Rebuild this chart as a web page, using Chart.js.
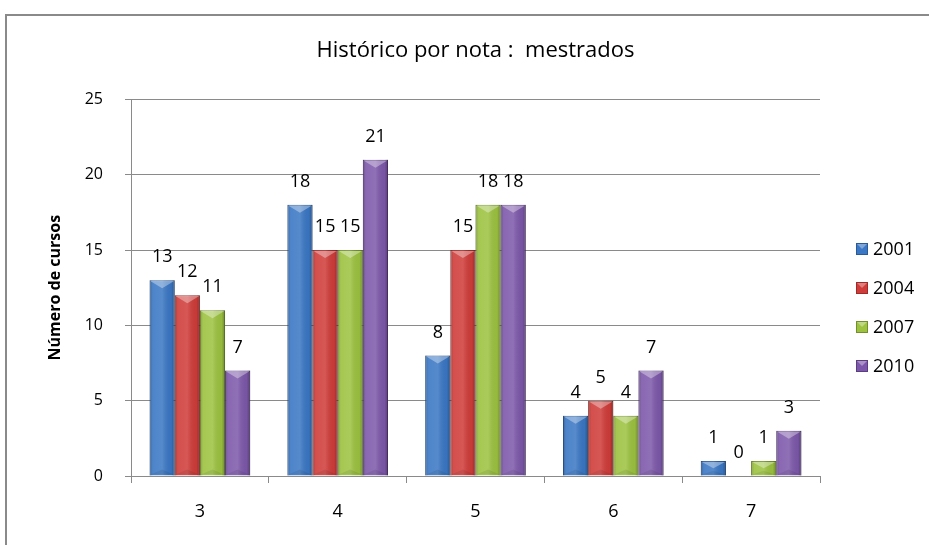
<!DOCTYPE html>
<html>
<head>
<meta charset="utf-8">
<script src="https://cdn.jsdelivr.net/npm/chart.js@4/dist/chart.umd.min.js"></script>
<style>
  html, body { margin: 0; padding: 0; background: #fff; overflow: hidden; }
  #frame { position: absolute; left: 5px; top: 14px; width: 960px; height: 580px; border: 2px solid #8a8a8a; }
  #wrap { position: absolute; left: 0; top: 0; width: 929px; height: 545px; }
</style>
</head>
<body>
<div id="frame"></div>
<div id="wrap"><canvas id="graphNotas" width="929" height="545"></canvas></div>
<script>
const categorias = ['3', '4', '5', '6', '7'];
const anos = ['2001', '2004', '2007', '2010'];
const cursos2001 = [13, 18, 8, 4, 1];
const cursos2004 = [12, 15, 15, 5, 0];
const cursos2007 = [11, 15, 18, 4, 1];
const cursos2010 = [7, 21, 18, 7, 3];
const yTicks = [0, 5, 10, 15, 20, 25];

const cores = ['#3a77c4', '#cf3c39', '#9cc23f', '#7d58aa'];
const bordas = ['#2b5a98', '#9c2b29', '#728f2c', '#5b3e80'];

const fonte = "'Open Sans', 'Liberation Sans', sans-serif";

// efeito 3D das barras + rotulos de dados
const bevel = {
  id: 'bevel',
  afterDatasetsDraw(chart) {
    const ctx = chart.ctx;
    ctx.save();
    chart.data.datasets.forEach((ds, i) => {
      const meta = chart.getDatasetMeta(i);
      meta.data.forEach((bar, j) => {
        const p = bar.getProps(['x', 'y', 'base', 'width'], true);
        const h = p.base - p.y;
        const l = p.x - p.width / 2, r = p.x + p.width / 2;
        if (h >= 1) {
          const g = ctx.createLinearGradient(l, 0, r, 0);
          g.addColorStop(0, 'rgba(0,0,0,0.22)');
          g.addColorStop(0.14, 'rgba(255,255,255,0.10)');
          g.addColorStop(0.5, 'rgba(255,255,255,0.14)');
          g.addColorStop(0.86, 'rgba(0,0,0,0.04)');
          g.addColorStop(1, 'rgba(0,0,0,0.30)');
          ctx.fillStyle = g;
          ctx.fillRect(l, p.y, p.width, h);
          const d = Math.min(8, h / 2);
          ctx.beginPath();
          ctx.moveTo(l + 1, p.y + 1);
          ctx.lineTo(r - 1, p.y + 1);
          ctx.lineTo(p.x, p.y + d);
          ctx.closePath();
          ctx.fillStyle = 'rgba(255,255,255,0.35)';
          ctx.fill();
          ctx.beginPath();
          ctx.moveTo(l + 1, p.base - 1);
          ctx.lineTo(r - 1, p.base - 1);
          ctx.lineTo(p.x, p.base - Math.min(6, h / 3));
          ctx.closePath();
          ctx.fillStyle = 'rgba(0,0,0,0.08)';
          ctx.fill();
        }
        ctx.fillStyle = '#000';
        ctx.font = '18px ' + fonte;
        ctx.textAlign = 'center';
        ctx.textBaseline = 'middle';
        ctx.fillText(String(ds.data[j]), p.x, p.y - 23);
      });
    });
    ctx.restore();
  }
};

// legenda a direita
const legenda = {
  id: 'legenda',
  afterDraw(chart) {
    const ctx = chart.ctx;
    ctx.save();
    ctx.font = '18px ' + fonte;
    ctx.textBaseline = 'middle';
    ctx.textAlign = 'left';
    anos.forEach((a, i) => {
      const y = 249 + i * 39;
      ctx.fillStyle = cores[i];
      ctx.fillRect(856, y - 6, 12, 12);
      ctx.fillStyle = 'rgba(255,255,255,0.35)';
      ctx.beginPath();
      ctx.moveTo(857, y - 5); ctx.lineTo(867, y - 5); ctx.lineTo(862, y); ctx.closePath();
      ctx.fill();
      ctx.strokeStyle = bordas[i];
      ctx.strokeRect(856.5, y - 5.5, 11, 11);
      ctx.fillStyle = '#000';
      ctx.fillText(a, 873, y + 1);
    });
    ctx.restore();
  }
};

const series = [cursos2001, cursos2004, cursos2007, cursos2010];

new Chart(document.getElementById('graphNotas'), {
  type: 'bar',
  data: {
    labels: categorias,
    datasets: series.map((s, i) => ({
      label: anos[i],
      data: s,
      backgroundColor: cores[i],
      borderColor: bordas[i],
      borderWidth: 1,
      categoryPercentage: 0.73,
      barPercentage: 1.0
    }))
  },
  options: {
    responsive: false,
    animation: false,
    devicePixelRatio: 1,
    layout: { padding: { left: 22, right: 0, top: 0, bottom: 0 } },
    plugins: {
      legend: { display: false },
      tooltip: { enabled: false },
      title: {
        display: true,
        text: 'Histórico por nota :  mestrados',
        color: '#000',
        font: { family: fonte, size: 22, weight: 'normal' },
        padding: { top: 38, bottom: 35 }
      }
    },
    scales: {
      x: {
        grid: { drawOnChartArea: false, drawTicks: true, tickLength: 7, color: '#8a8a8a', offset: true },
        border: { color: '#8a8a8a' },
        ticks: { color: '#000', font: { family: fonte, size: 18 }, padding: 18 },
        afterFit: s => { s.height = 69; }
      },
      y: {
        min: 0,
        max: 25,
        afterBuildTicks: s => { s.ticks = yTicks.map(v => ({ value: v })); },
        grid: { color: '#8a8a8a', tickLength: 6 },
        border: { color: '#8a8a8a' },
        ticks: { color: '#000', font: { family: fonte, size: 16 }, padding: 22 },
        title: {
          display: true,
          text: 'Número de cursos',
          color: '#000',
          font: { family: fonte, size: 16, weight: 'bold' },
          padding: { top: 24, bottom: 0 }
        },
        afterFit: s => { s.width = 109; }
      },
      espaco: {
        position: 'right',
        display: true,
        grid: { display: false },
        border: { display: false },
        ticks: { display: false },
        afterFit: s => { s.width = 109; }
      }
    }
  },
  plugins: [bevel, legenda]
});
</script>
</body>
</html>
